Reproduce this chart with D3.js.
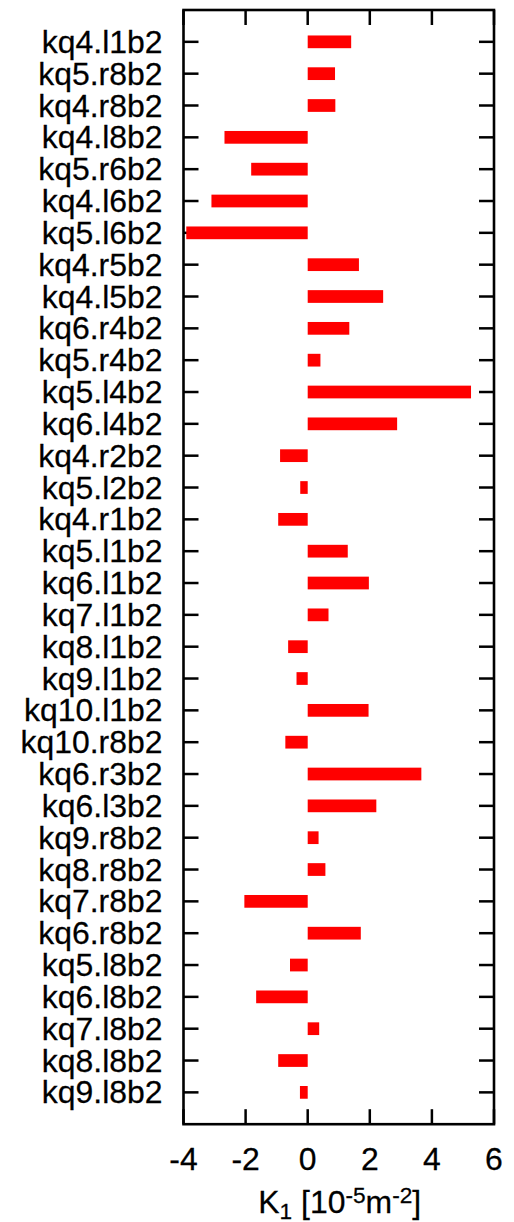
<!DOCTYPE html>
<html>
<head>
<meta charset="utf-8">
<script src="https://cdn.jsdelivr.net/npm/d3@7"></script>
<style>
  html, body { margin: 0; padding: 0; background: #fff; }
  svg { display: block; }
  text { font-family: "Liberation Sans", Arial, Helvetica, sans-serif; fill: #000; stroke: #000; stroke-width: 0.25px; }
</style>
</head>
<body>
<svg id="chart" width="514" height="1222"></svg>
<script>
// Quadrupole names, top to bottom
const magnets = [
  "kq4.l1b2", "kq5.r8b2", "kq4.r8b2", "kq4.l8b2", "kq5.r6b2", "kq4.l6b2",
  "kq5.l6b2", "kq4.r5b2", "kq4.l5b2", "kq6.r4b2", "kq5.r4b2", "kq5.l4b2",
  "kq6.l4b2", "kq4.r2b2", "kq5.l2b2", "kq4.r1b2", "kq5.l1b2", "kq6.l1b2",
  "kq7.l1b2", "kq8.l1b2", "kq9.l1b2", "kq10.l1b2", "kq10.r8b2", "kq6.r3b2",
  "kq6.l3b2", "kq9.r8b2", "kq8.r8b2", "kq7.r8b2", "kq6.r8b2", "kq5.l8b2",
  "kq6.l8b2", "kq7.l8b2", "kq8.l8b2", "kq9.l8b2"
];

// Normalized strength change K1 in units of 1e-5 m^-2
const k1 = [
  1.40, 0.88, 0.89, -2.68, -1.82, -3.10,
  -3.91, 1.65, 2.43, 1.34, 0.41, 5.26,
  2.88, -0.89, -0.24, -0.95, 1.29, 1.97,
  0.67, -0.63, -0.36, 1.96, -0.72, 3.66,
  2.21, 0.35, 0.57, -2.04, 1.71, -0.57,
  -1.66, 0.37, -0.95, -0.25
];

const xTicks = [-4, -2, 0, 2, 4, 6];

const svg = d3.select("#chart");
const plotL = 183.5, plotR = 494, plotT = 10, plotB = 1124.2;
const stretch = 1.03;   // slightly widened glyphs
const fontSize = 31;
const subSize = 22;
const tickLen = 15;

const x = d3.scaleLinear().domain([-4, 6]).range([plotL, plotR]);
const y = d3.scaleLinear().domain([-1, magnets.length]).range([plotT, plotB]);
const barH = y(0.4) - y(0);

// tick marks on all four sides, pointing inward
const ticks = svg.append("g").attr("stroke", "#000").attr("stroke-width", 2.5);
xTicks.forEach(t => {
  ticks.append("line").attr("x1", x(t)).attr("x2", x(t)).attr("y1", plotB).attr("y2", plotB - tickLen);
  ticks.append("line").attr("x1", x(t)).attr("x2", x(t)).attr("y1", plotT).attr("y2", plotT + tickLen);
});
magnets.forEach((m, i) => {
  ticks.append("line").attr("x1", plotL).attr("x2", plotL + tickLen).attr("y1", y(i)).attr("y2", y(i));
  ticks.append("line").attr("x1", plotR).attr("x2", plotR - tickLen).attr("y1", y(i)).attr("y2", y(i));
});

// bars
svg.append("g").selectAll("rect")
  .data(magnets.map((m, i) => ({ m, v: k1[i], i })))
  .join("rect")
  .attr("x", d => x(Math.min(0, d.v)))
  .attr("width", d => Math.abs(x(d.v) - x(0)))
  .attr("y", d => y(d.i) - barH / 2)
  .attr("height", barH)
  .attr("fill", "#ff0000");

// frame
svg.append("rect")
  .attr("x", plotL).attr("y", plotT)
  .attr("width", plotR - plotL).attr("height", plotB - plotT)
  .attr("fill", "none").attr("stroke", "#000").attr("stroke-width", 2.6);

// category labels
svg.append("g").selectAll("text")
  .data(magnets)
  .join("text")
  .attr("transform", (d, i) => `translate(${plotL - 21},${y(i) + 11}) scale(${stretch},1)`)
  .attr("text-anchor", "end")
  .attr("font-size", fontSize)
  .text(d => d);

// x tick labels
svg.append("g").selectAll("text")
  .data(xTicks)
  .join("text")
  .attr("transform", d => `translate(${x(d)},1170) scale(${stretch},1)`)
  .attr("text-anchor", "middle")
  .attr("font-size", fontSize)
  .text(d => d);

// axis title: K_1 [10^-5 m^-2]
const title = svg.append("text")
  .attr("transform", `translate(${(plotL + plotR) / 2 + 1},1213) scale(${stretch},1)`)
  .attr("text-anchor", "middle")
  .attr("font-size", fontSize);
title.append("tspan").text("K");
title.append("tspan").attr("font-size", subSize).attr("dy", 5.5).text("1");
title.append("tspan").attr("dy", -5.5).text(" [10");
title.append("tspan").attr("font-size", subSize).attr("dy", -10).text("-5");
title.append("tspan").attr("dy", 10).text("m");
title.append("tspan").attr("font-size", subSize).attr("dy", -10).text("-2");
title.append("tspan").attr("dy", 10).text("]");
</script>
</body>
</html>
